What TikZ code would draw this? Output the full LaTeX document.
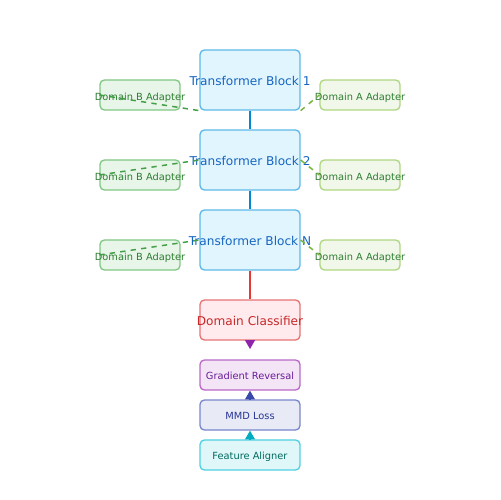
\documentclass[tikz,border=0pt]{standalone}
\usepackage{fontspec}
\setmainfont{DejaVu Sans}
\usetikzlibrary{arrows.meta}

\definecolor{blkfill}{HTML}{E1F5FE}
\definecolor{blkdraw}{HTML}{5DB8E8}
\definecolor{blktext}{HTML}{1565C0}
\definecolor{blkline}{HTML}{0288D1}
\definecolor{bfill}{HTML}{E8F5E9}
\definecolor{bdraw}{HTML}{81C784}
\definecolor{afill}{HTML}{F1F8E9}
\definecolor{adraw}{HTML}{AED581}
\definecolor{adtext}{HTML}{2E7D32}
\definecolor{bdash}{HTML}{43A047}
\definecolor{adash}{HTML}{7CB342}
\definecolor{clsfill}{HTML}{FFEBEE}
\definecolor{clsdraw}{HTML}{E57373}
\definecolor{clstext}{HTML}{C62828}
\definecolor{clsline}{HTML}{E53935}
\definecolor{grfill}{HTML}{F3E5F5}
\definecolor{grdraw}{HTML}{BA68C8}
\definecolor{grtext}{HTML}{6A1B9A}
\definecolor{grarrow}{HTML}{8E24AA}
\definecolor{mmdfill}{HTML}{E8EAF6}
\definecolor{mmddraw}{HTML}{7986CB}
\definecolor{mmdtext}{HTML}{283593}
\definecolor{mmdarrow}{HTML}{3949AB}
\definecolor{fafill}{HTML}{E0F7FA}
\definecolor{fadraw}{HTML}{4DD0E1}
\definecolor{fatext}{HTML}{00695C}
\definecolor{faarrow}{HTML}{00ACC1}

\tikzset{
box/.style={draw, rounded corners=2.5pt, line width=0.75pt, inner sep=0pt},
tblock/.style={box, minimum width=20mm, minimum height=12mm, fill=blkfill, draw=blkdraw, text=blktext, font=\fontsize{6.9}{8}\selectfont},
badapt/.style={box, minimum width=16mm, minimum height=6mm, fill=bfill, draw=bdraw, text=adtext, font=\fontsize{5.6}{7}\selectfont},
aadapt/.style={box, minimum width=16mm, minimum height=6mm, fill=afill, draw=adraw, text=adtext, font=\fontsize{5.6}{7}\selectfont},
smallbox/.style={box, minimum width=20mm, minimum height=6mm, font=\fontsize{5.6}{7}\selectfont},
adline/.style={dashed, line width=0.85pt},
tip/.style={-{Triangle[length=5pt,width=5.6pt]}, line width=0.6pt}
}

\newcommand{\fixtext}[2]{\makebox[0pt]{\smash{\raisebox{#1}{#2}}}}
\newcommand{\tblock}[3]{
\node[tblock] (#1) at (250,#2) {\fixtext{-3pt}{#3}};
}
\newcommand{\adapters}[2]{
\node[badapt] (b#1) at (140,#2) {\fixtext{-3.3pt}{Domain B Adapter}};
\node[aadapt] (a#1) at (360,#2) {\fixtext{-3.3pt}{Domain A Adapter}};
}

\begin{document}
\begin{tikzpicture}[x=0.02cm, y=-0.02cm]
\useasboundingbox (0,0) rectangle (500,500);

\tblock{blk1}{80}{Transformer Block 1}
\tblock{blk2}{160}{Transformer Block 2}
\tblock{blkN}{240}{Transformer Block N}

\adapters{1}{95}
\adapters{2}{175}
\adapters{N}{255}

\node[smallbox, minimum height=8mm, fill=clsfill, draw=clsdraw, text=clstext, font=\fontsize{6.9}{8}\selectfont] (cls) at (250,320) {\fixtext{-3pt}{Domain Classifier}};
\node[smallbox, fill=grfill, draw=grdraw, text=grtext] (gr) at (250,375) {\fixtext{-2.7pt}{Gradient Reversal}};
\node[smallbox, fill=mmdfill, draw=mmddraw, text=mmdtext] (mmd) at (250,415) {\fixtext{-2.7pt}{MMD Loss}};
\node[smallbox, fill=fafill, draw=fadraw, text=fatext] (fa) at (250,455) {\fixtext{-2.7pt}{Feature Aligner}};

% backbone
\draw[blkline, line width=1.2pt] (blk1) -- (blk2);
\draw[blkline, line width=1.2pt] (blk2) -- (blkN);
\draw[clsline, line width=1.2pt] (blkN) -- (cls);

% adapters
\draw[bdash, adline] (b1.west) -- (blk1.south west);
\draw[adash, adline] (blk1.south east) -- (a1.west);
\draw[bdash, adline] (b2.west) -- (blk2.west);
\draw[adash, adline] (blk2.east) -- (a2.west);
\draw[bdash, adline] (bN.west) -- (blkN.west);
\draw[adash, adline] (blkN.east) -- (aN.west);

% losses
\coordinate (clsend) at (250,349);
\draw[tip, grarrow] (cls.south) -- (clsend);
\draw[tip, mmdarrow] (mmd.north) -- (gr.south);
\draw[tip, faarrow] (fa.north) -- (mmd.south);
% \draw[help lines] (0,0) grid (500,500);
\end{tikzpicture}
\end{document}
